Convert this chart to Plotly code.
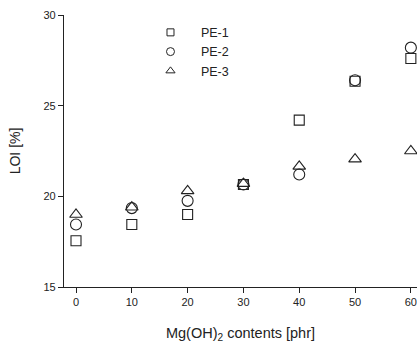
import plotly.graph_objects as go

x_phr = [0, 10, 20, 30, 40, 50, 60]
pe1 = [17.55, 18.45, 19.0, 20.65, 24.2, 26.35, 27.6]
pe2 = [18.45, 19.35, 19.75, 20.65, 21.2, 26.4, 28.2]
pe3 = [19.0, 19.4, 20.3, 20.7, 21.65, 22.05, 22.5]
names = ["PE-1", "PE-2", "PE-3"]
symbols = ["square-open", "circle-open", "triangle-up-open"]
x_ticks = [0, 10, 20, 30, 40, 50, 60]
y_ticks = [15, 20, 25, 30]

fig = go.Figure()
for name, ys, sym, sz in zip(names, [pe1, pe2, pe3], symbols, [10, 11, 11]):
    fig.add_trace(go.Scatter(
        x=x_phr, y=ys, mode="markers", name=name, showlegend=False,
        legendgroup=name,
        marker=dict(symbol=sym, size=sz, color="#222",
                    line=dict(width=1.1, color="#222")),
        cliponaxis=False,
    ))
# legend entries with smaller symbols, as in the reference
for name, sym, sz in zip(names, symbols, [7, 8, 8]):
    fig.add_trace(go.Scatter(
        x=[None], y=[None], mode="markers", name="\u00a0\u00a0\u00a0" + name,
        legendgroup=name,
        marker=dict(symbol=sym, size=sz, color="#222",
                    line=dict(width=1, color="#222")),
    ))

axis_common = dict(showline=True, linecolor="#222", linewidth=1.3,
                   ticks="outside", ticklen=5, tickwidth=1.2, tickcolor="#222",
                   showgrid=False, zeroline=False,
                   tickfont=dict(family="Liberation Sans, Arial", size=11, color="#222"))

fig.update_layout(
    width=417, height=348,
    margin=dict(l=64, r=0, t=15, b=61),
    paper_bgcolor="white", plot_bgcolor="white",
    showlegend=True,
    legend=dict(x=0.245, y=0.99, xanchor="left", yanchor="top",
                bgcolor="rgba(0,0,0,0)",
                font=dict(family="Liberation Sans, Arial", size=12.5, color="#222"),
                itemwidth=30, tracegroupgap=0, itemsizing="trace"),
    xaxis=dict(range=[-2.15, 61.1], tickvals=x_ticks,
               title=dict(text="Mg(OH)<sub>2</sub> contents [phr]",
                          font=dict(family="Liberation Sans, Arial", size=14.5, color="#222"),
                          standoff=20),
               **axis_common),
    yaxis=dict(range=[15, 30], tickvals=y_ticks,
               title=dict(text="LOI [%]",
                          font=dict(family="Liberation Sans, Arial", size=14, color="#222"),
                          standoff=19),
               **axis_common),
)

fig.write_html("out.html")
